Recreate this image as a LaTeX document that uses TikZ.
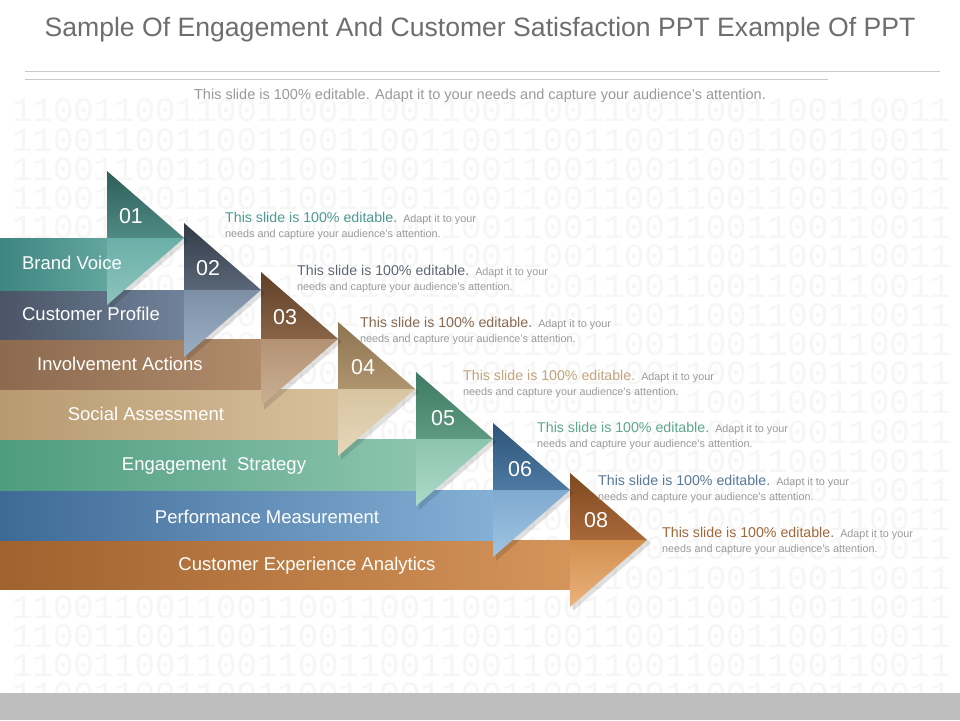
\documentclass[tikz,border=0pt]{standalone}
\usepackage{fontspec}
\setmainfont{Liberation Sans}
\newfontfamily\binfont{Liberation Mono}
\usepackage{tikz}
\usetikzlibrary{positioning}

\definecolor{titlegrey}{HTML}{6E6E6E}
\definecolor{rulegrey}{HTML}{C8C8C8}
\definecolor{smallgrey}{HTML}{9A9A9A}
\definecolor{bargrey}{HTML}{BEBEBE}

\definecolor{tealA}{HTML}{3F8580}\definecolor{tealB}{HTML}{62A69E}
\definecolor{tealC}{HTML}{2F5E5A}\definecolor{tealD}{HTML}{4F8A84}
\definecolor{tealE}{HTML}{6BB0A8}\definecolor{tealF}{HTML}{8CC4BD}
\definecolor{slateA}{HTML}{4A5566}\definecolor{slateB}{HTML}{70829A}
\definecolor{slateC}{HTML}{323A46}\definecolor{slateD}{HTML}{5A6778}
\definecolor{slateE}{HTML}{7D90A6}\definecolor{slateF}{HTML}{9AAFC4}
\definecolor{brownA}{HTML}{8C6A4E}\definecolor{brownB}{HTML}{B08C6C}
\definecolor{brownC}{HTML}{5E4028}\definecolor{brownD}{HTML}{8A6446}
\definecolor{brownE}{HTML}{B49274}\definecolor{brownF}{HTML}{CBB094}
\definecolor{tanA}{HTML}{B89A70}\definecolor{tanB}{HTML}{D6C09C}
\definecolor{tanC}{HTML}{8E7450}\definecolor{tanD}{HTML}{B09470}
\definecolor{tanE}{HTML}{D8C4A0}\definecolor{tanF}{HTML}{E6D8BC}
\definecolor{greenA}{HTML}{4E9C80}\definecolor{greenB}{HTML}{8CC4AE}
\definecolor{greenC}{HTML}{3F7A64}\definecolor{greenD}{HTML}{5E9A82}
\definecolor{greenE}{HTML}{8CC4AE}\definecolor{greenF}{HTML}{AEDACA}
\definecolor{blueA}{HTML}{3E6A96}\definecolor{blueB}{HTML}{84B0D6}
\definecolor{blueC}{HTML}{2E5478}\definecolor{blueD}{HTML}{4E7AA2}
\definecolor{blueE}{HTML}{80AAD0}\definecolor{blueF}{HTML}{A0C4E2}
\definecolor{orangeA}{HTML}{A0622E}\definecolor{orangeB}{HTML}{D4945A}
\definecolor{orangeC}{HTML}{7E4A1E}\definecolor{orangeD}{HTML}{A8683A}
\definecolor{orangeE}{HTML}{D29050}\definecolor{orangeF}{HTML}{EAB27C}

\definecolor{head1}{HTML}{4E9A92}
\definecolor{head2}{HTML}{5E6672}
\definecolor{head3}{HTML}{8A6A52}
\definecolor{head4}{HTML}{C4A47C}
\definecolor{head5}{HTML}{5FA890}
\definecolor{head6}{HTML}{5A7898}
\definecolor{head7}{HTML}{A06838}

\begin{document}
\begin{tikzpicture} [x = 1pt, y = -1pt,
  digits/.style = {anchor = west, inner sep = 0pt, text = black!3.5, font = \binfont\fontsize{34}{34}\selectfont},
  bandtext/.style = {text = white, inner sep = 0pt, font = \fontsize{18.5}{20}\selectfont},
  numtext/.style = {text = white, inner sep = 0pt, font = \fontsize{21.5}{22}\selectfont},
  desc/.style = {anchor = west, align = left, inner sep = 0pt, text = smallgrey, font = \fontsize{10.8}{15.5}\selectfont},
  dropshade/.style = {fill = black, opacity = .12}]
\useasboundingbox (0,0) rectangle (960,720);
\fill[white] (0,0) rectangle (960,720);
\foreach \r in {0,...,20}
  \node[digits] (row\r) at (12, 110.7 + 29.2*\r) {1100110011001100110011001100110011001100110011};
\fill[bargrey] (0,693) rectangle (960,720);
\node[text = titlegrey, font = \fontsize{26.6}{30}\selectfont] (title) at (480,30) {Sample Of Engagement And Customer Satisfaction PPT Example Of PPT};
\draw[rulegrey] (25,71) -- (940,71);
\draw[rulegrey] (25,79) -- (828,79);
\node[text = smallgrey, font = \fontsize{14.5}{16}\selectfont] (subtitle) at (480,96) {This slide is 100\% editable. Adapt it to your needs and capture your audience's attention.};

\fill[dropshade] (573,476) -- (651,543) -- (573,611) -- cycle;
\shade[left color = orangeA, right color = orangeB] (0,540) rectangle (570,589);
\shade[top color = orangeC, bottom color = orangeD] (570,473) -- (647,540) -- (570,540) -- cycle;
\shade[top color = orangeE, bottom color = orangeF] (570,540) -- (647,540) -- (570,607) -- cycle;

\fill[dropshade] (496,426) -- (574,493) -- (496,561) -- cycle;
\shade[left color = blueA, right color = blueB] (0,490) rectangle (493,540);
\shade[top color = blueC, bottom color = blueD] (493,423) -- (570,490) -- (493,490) -- cycle;
\shade[top color = blueE, bottom color = blueF] (493,490) -- (570,490) -- (493,557) -- cycle;

\fill[dropshade] (419,375) -- (497,442) -- (419,510) -- cycle;
\shade[left color = greenA, right color = greenB] (0,439) rectangle (416,490);
\shade[top color = greenC, bottom color = greenD] (416,372) -- (493,439) -- (416,439) -- cycle;
\shade[top color = greenE, bottom color = greenF] (416,439) -- (493,439) -- (416,506) -- cycle;

\fill[dropshade] (341,325) -- (419,392) -- (341,460) -- cycle;
\shade[left color = tanA, right color = tanB] (0,389) rectangle (338,439);
\shade[top color = tanC, bottom color = tanD] (338,322) -- (415,389) -- (338,389) -- cycle;
\shade[top color = tanE, bottom color = tanF] (338,389) -- (415,389) -- (338,456) -- cycle;

\fill[dropshade] (264,275) -- (342,342) -- (264,410) -- cycle;
\shade[left color = brownA, right color = brownB] (0,339) rectangle (261,389);
\shade[top color = brownC, bottom color = brownD] (261,272) -- (338,339) -- (261,339) -- cycle;
\shade[top color = brownE, bottom color = brownF] (261,339) -- (338,339) -- (261,406) -- cycle;

\fill[dropshade] (187,226) -- (265,293) -- (187,361) -- cycle;
\shade[left color = slateA, right color = slateB] (0,290) rectangle (184,339);
\shade[top color = slateC, bottom color = slateD] (184,223) -- (261,290) -- (184,290) -- cycle;
\shade[top color = slateE, bottom color = slateF] (184,290) -- (261,290) -- (184,357) -- cycle;

\fill[dropshade] (110,174) -- (188,241) -- (110,309) -- cycle;
\shade[left color = tealA, right color = tealB] (0,238) rectangle (107,290);
\shade[top color = tealC, bottom color = tealD] (107,171) -- (184,238) -- (107,238) -- cycle;
\shade[top color = tealE, bottom color = tealF] (107,238) -- (184,238) -- (107,305) -- cycle;

\node[bandtext] (brand) at (72,263) {Brand Voice};
\node[bandtext] (profile) at (91,314) {Customer Profile};
\node[bandtext] (involve) at (120,364) {Involvement Actions};
\node[bandtext] (social) at (146,414) {Social Assessment};
\node[bandtext] (engage) at (214,466) {Engagement\ \ Strategy};
\node[bandtext] (perform) at (267,517) {Performance Measurement};
\node[bandtext] (experience) at (307,566) {Customer Experience Analytics};

\node[numtext] (n1) at (131,216) {01};
\node[numtext] (n2) at (208,268) {02};
\node[numtext] (n3) at (285,317) {03};
\node[numtext] (n4) at (363,367) {04};
\node[numtext] (n5) at (443,418) {05};
\node[numtext] (n6) at (520,469) {06};
\node[numtext] (n8) at (596,520) {08};

\node[desc] (d1) at (225,226) {{\color{head1}\fontsize{14.2}{15}\selectfont This slide is 100\% editable.}\ \ Adapt it to your\\needs and capture your audience's attention.};
\node[desc] (d2) at (297,279) {{\color{head2}\fontsize{14.2}{15}\selectfont This slide is 100\% editable.}\ \ Adapt it to your\\needs and capture your audience's attention.};
\node[desc] (d3) at (360,331) {{\color{head3}\fontsize{14.2}{15}\selectfont This slide is 100\% editable.}\ \ Adapt it to your\\needs and capture your audience's attention.};
\node[desc] (d4) at (463,384) {{\color{head4}\fontsize{14.2}{15}\selectfont This slide is 100\% editable.}\ \ Adapt it to your\\needs and capture your audience's attention.};
\node[desc] (d5) at (537,436) {{\color{head5}\fontsize{14.2}{15}\selectfont This slide is 100\% editable.}\ \ Adapt it to your\\needs and capture your audience's attention.};
\node[desc] (d6) at (598,489) {{\color{head6}\fontsize{14.2}{15}\selectfont This slide is 100\% editable.}\ \ Adapt it to your\\needs and capture your audience's attention.};
\node[desc] (d7) at (662,541) {{\color{head7}\fontsize{14.2}{15}\selectfont This slide is 100\% editable.}\ \ Adapt it to your\\needs and capture your audience's attention.};
\end{tikzpicture}
\end{document}
